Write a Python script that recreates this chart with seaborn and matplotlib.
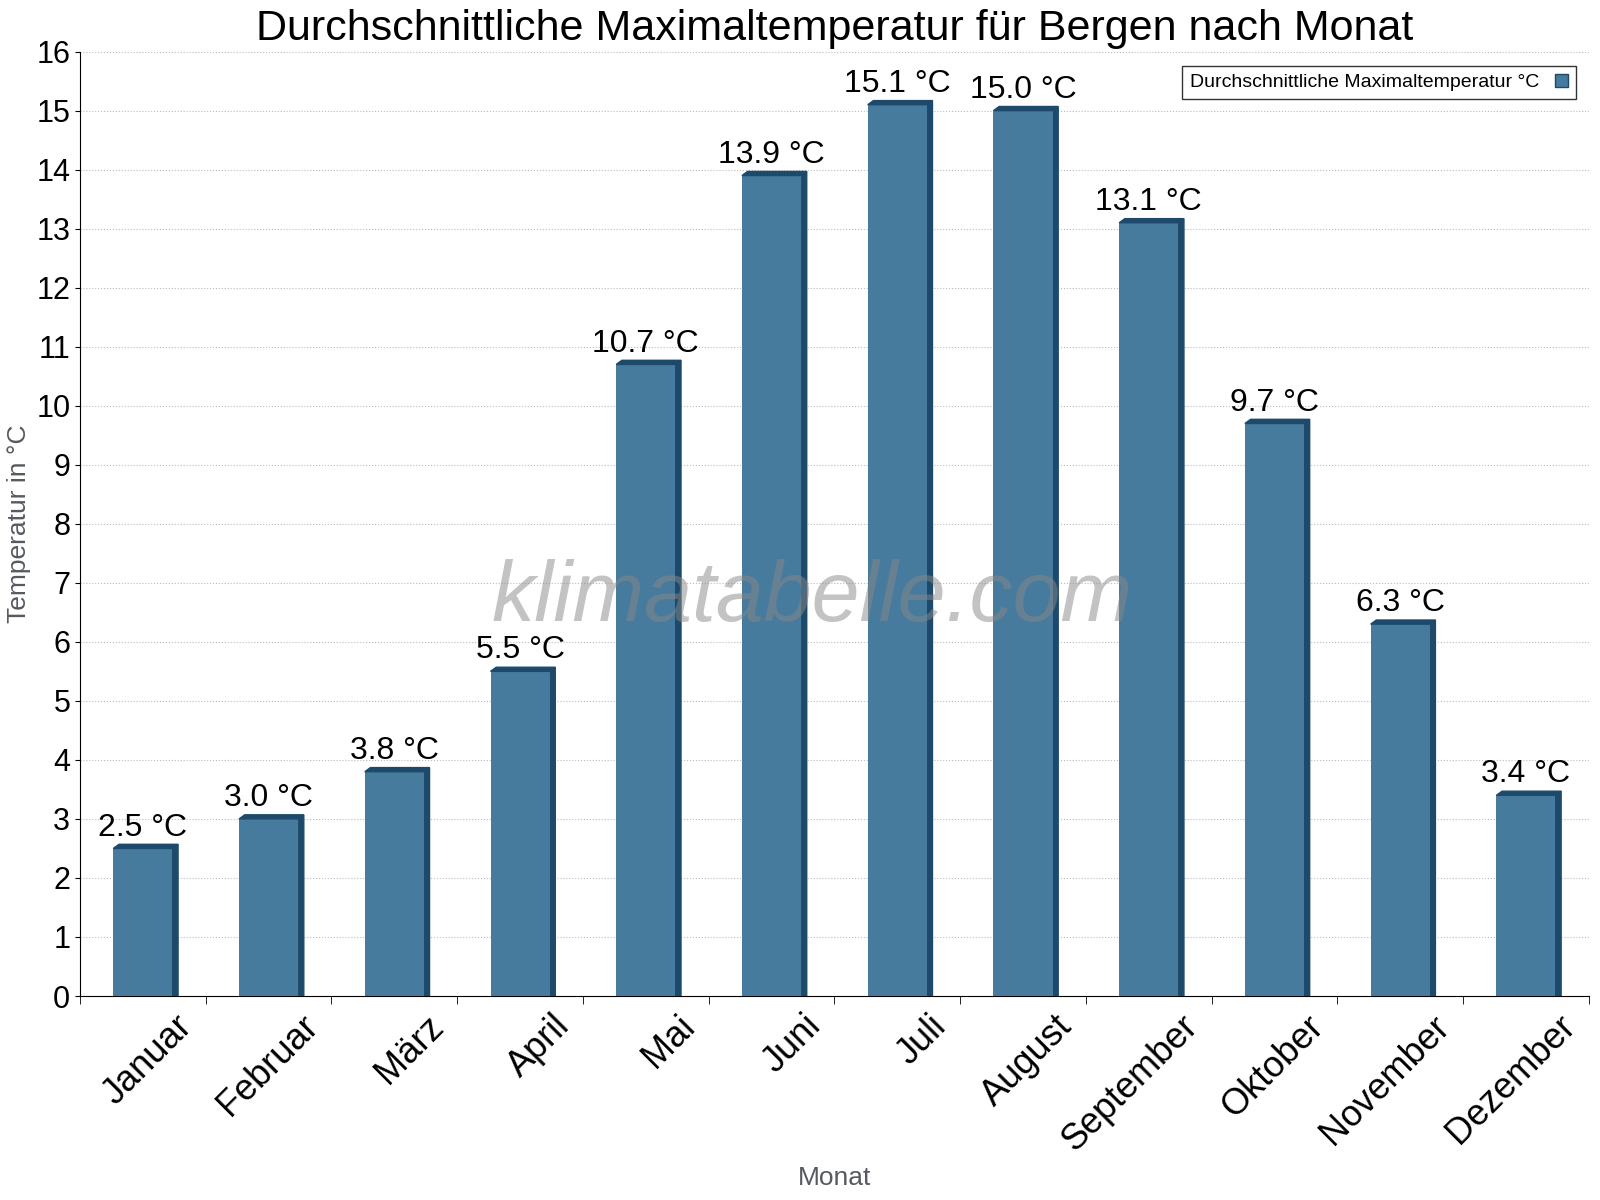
import matplotlib
matplotlib.use("Agg")
import matplotlib.pyplot as plt
import seaborn as sns
import pandas as pd
from matplotlib.patches import Polygon, Patch

plt.rcParams["font.family"] = "Liberation Sans"

months = ["Januar", "Februar", "März", "April", "Mai", "Juni", "Juli",
          "August", "September", "Oktober", "November", "Dezember"]
temps = [2.5, 3.0, 3.8, 5.5, 10.7, 13.9, 15.1, 15.0, 13.1, 9.7, 6.3, 3.4]

df = pd.DataFrame({"Monat": months, "Temp": temps})
face = "#467b9e"
dark = "#1d4a6b"

fig = plt.figure(figsize=(16, 12), dpi=100)
ax = fig.add_axes([0.05, 0.17, 0.943, 0.787])
sns.barplot(data=df, x="Monat", y="Temp", color=face, width=0.47,
            saturation=1, ax=ax, zorder=3, edgecolor="none")

dx, dy = 0.045, 0.07
for p, t in zip(ax.patches, temps):
    x0, w, h = p.get_x(), p.get_width(), p.get_height()
    side = Polygon([(x0 + w, 0), (x0 + w + dx, 0), (x0 + w + dx, h + dy),
                    (x0 + w, h)], closed=True, color=dark, zorder=2.9)
    top = Polygon([(x0, h), (x0 + dx, h + dy), (x0 + w + dx, h + dy), (x0 + w, h)],
                  closed=True, color=dark, zorder=3.1)
    ax.add_patch(side)
    ax.add_patch(top)
    ax.text(x0 + w / 2, h + 0.1, f"{t:.1f} °C", ha="center", va="bottom",
            fontsize=23, zorder=4)

ax.set_xlim(-0.5, 11.5)
ax.set_ylim(0, 16)
ax.set_yticks(range(0, 17))
ax.tick_params(axis="y", labelsize=22)
ax.set_xticks([i + 0.35 for i in range(12)])
ax.set_xticklabels(months, rotation=45, fontsize=26, ha="right",
                   rotation_mode="anchor", va="center")
ax.tick_params(axis="x", length=0, pad=18)
ax.set_xticks([i + 0.5 for i in range(-1, 12)], minor=True)
ax.tick_params(axis="x", which="minor", length=6)
ax.grid(axis="y", linestyle=":", color="#bbbbbb", zorder=0)
ax.set_axisbelow(True)
for s in ["top", "right"]:
    ax.spines[s].set_visible(False)
ax.set_xlabel("Monat", fontsize=19, color="#555a60", labelpad=6)
ax.set_ylabel("Temperatur in °C", fontsize=19, color="#555a60")
ax.set_title("Durchschnittliche Maximaltemperatur für Bergen nach Monat",
             fontsize=31, pad=8)
ax.text(0.485, 0.42, "klimatabelle.com", transform=ax.transAxes, fontsize=62,
        style="italic", color="#888888", alpha=0.5, ha="center", va="center",
        zorder=5)
ax.legend(handles=[Patch(facecolor=face, edgecolor=dark)],
          labels=["Durchschnittliche Maximaltemperatur °C"],
          loc="upper right", fontsize=14, markerfirst=False,
          fancybox=False, edgecolor="black", handlelength=0.7,
          bbox_to_anchor=(0.998, 0.995))
fig.savefig("out.png", dpi=100)
